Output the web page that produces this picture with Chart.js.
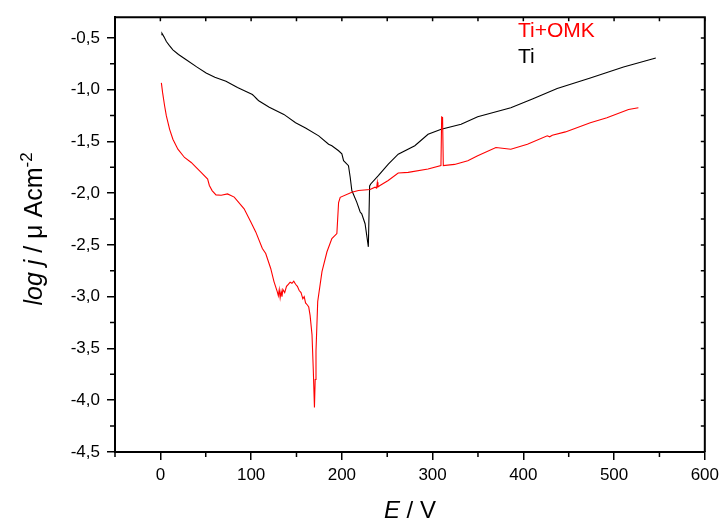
<!DOCTYPE html>
<html><head><meta charset="utf-8">
<script src="https://cdn.jsdelivr.net/npm/chart.js@4/dist/chart.umd.min.js"></script>
<style>html,body{margin:0;padding:0;background:#fff}#wrap{width:724px;height:522px}</style>
</head><body><div id="wrap"><canvas id="c" width="724" height="522"></canvas></div>
<script>
// ---- data ----
const seriesLabels = ['Ti+OMK', 'Ti'];
const seriesColors = ['#ff0000', '#000000'];

const tiE = [1.1, 1.75, 4.0, 6.6, 10.0, 13.8, 20.0, 28.5, 40.0, 50.4, 60.0, 72.3, 85.0, 95.0, 101.4, 103.3, 106.9, 108.8, 120.0, 136.1, 149.0, 160.0, 174.5, 185.4, 189.0, 196.4, 200.0, 201.9, 207.3, 209.2, 211.0, 216.4, 220.2, 221.9, 225.6, 229.2, 230.6, 231.8, 240.2, 251.2, 262.1, 280.4, 295.0, 309.5, 331.4, 349.7, 386.2, 410.0, 437.3, 473.8, 510.4, 546.0];
const tiLogJ = [-0.47, -0.455, -0.49, -0.535, -0.575, -0.615, -0.66, -0.711, -0.78, -0.839, -0.88, -0.918, -0.98, -1.02, -1.047, -1.062, -1.095, -1.11, -1.17, -1.239, -1.319, -1.37, -1.446, -1.527, -1.542, -1.59, -1.62, -1.686, -1.734, -1.846, -1.974, -2.086, -2.182, -2.199, -2.295, -2.518, -1.93, -1.911, -1.83, -1.719, -1.623, -1.542, -1.431, -1.383, -1.335, -1.261, -1.175, -1.09, -0.989, -0.887, -0.781, -0.695];

const omkE = [1.1, 2.5, 4.7, 6.6, 10.2, 13.8, 19.3, 26.6, 34.0, 39.4, 44.9, 52.1, 54.0, 57.0, 61.3, 67.0, 74.0, 81.4, 92.3, 99.7, 105.1, 112.4, 116.1, 121.6, 125.2, 128.8, 130.0, 131.0, 132.0, 133.0, 134.0, 135.0, 137.0, 139.0, 141.0, 143.0, 145.0, 147.0, 149.0, 151.0, 153.0, 155.0, 157.0, 158.5, 160.0, 162.0, 163.5, 165.0, 167.1, 168.5, 169.8, 170.6, 171.5, 173.4, 178.1, 183.6, 189.0, 194.5, 196.4, 198.2, 211.0, 218.3, 231.1, 236.6, 238.3, 239.1, 239.8, 242.0, 251.1, 262.1, 273.1, 295.0, 309.2, 310.0, 311.0, 311.8, 324.2, 338.8, 349.7, 369.8, 386.2, 404.5, 426.4, 429.0, 431.9, 446.4, 473.8, 492.1, 515.9, 526.8];
const omkLogJ = [-0.935, -1.031, -1.158, -1.254, -1.383, -1.479, -1.575, -1.655, -1.703, -1.75, -1.799, -1.863, -1.925, -1.975, -2.016, -2.02, -2.007, -2.038, -2.151, -2.278, -2.374, -2.535, -2.583, -2.727, -2.854, -2.95, -2.99, -2.93, -3.01, -2.95, -3.0, -2.93, -2.96, -2.9, -2.88, -2.86, -2.87, -2.85, -2.88, -2.9, -2.94, -2.96, -3.02, -3.0, -3.06, -3.08, -3.1, -3.18, -3.366, -3.7, -4.07, -3.8, -3.526, -3.046, -2.758, -2.566, -2.439, -2.39, -2.09, -2.04, -1.99, -1.974, -1.965, -1.942, -1.95, -1.894, -1.94, -1.926, -1.878, -1.805, -1.799, -1.767, -1.734, -1.264, -1.27, -1.734, -1.722, -1.686, -1.638, -1.559, -1.575, -1.527, -1.446, -1.455, -1.44, -1.408, -1.319, -1.271, -1.191, -1.175];

const xTickValues = [0, 100, 200, 300, 400, 500, 600];
const xMinorValues = [-50, 50, 150, 250, 350, 450, 550];
const yTickValues = [-4.5, -4.0, -3.5, -3.0, -2.5, -2.0, -1.5, -1.0, -0.5];
const yMinorValues = [-4.25, -3.75, -3.25, -2.75, -2.25, -1.75, -1.25, -0.75];
const xRange = [-50, 600];
const yRange = [-4.5, -0.3];

// ---- build datasets ----
function pts(xs, ys) { return xs.map((x, i) => ({ x: x, y: ys[i] })); }
const datasets = [
  { label: seriesLabels[0], data: pts(omkE, omkLogJ), borderColor: seriesColors[0] },
  { label: seriesLabels[1], data: pts(tiE, tiLogJ), borderColor: seriesColors[1] }
].map(d => Object.assign(d, { showLine: true, pointRadius: 0, borderWidth: 1.1, tension: 0, fill: false }));

const FONT = '"Liberation Sans", Arial, sans-serif';

function drawRich(ctx, parts, x, y) {
  let total = 0;
  parts.forEach(p => { ctx.font = p.font; p.w = ctx.measureText(p.text).width; total += p.w; });
  let cx = x - total / 2;
  ctx.textAlign = 'left';
  ctx.textBaseline = 'alphabetic';
  parts.forEach(p => { ctx.font = p.font; ctx.fillText(p.text, cx, y + (p.dy || 0)); cx += p.w; });
}

const framePlugin = {
  id: 'frame',
  afterDraw(chart) {
    const ctx = chart.ctx, a = chart.chartArea, xs = chart.scales.x, ys = chart.scales.y;
    ctx.save();
    ctx.strokeStyle = '#000';
    ctx.lineWidth = 2;
    ctx.beginPath();
    ctx.moveTo(a.left, a.top); ctx.lineTo(a.right, a.top); ctx.lineTo(a.right, a.bottom);
    ctx.stroke();
    ctx.lineWidth = 1.5;
    ctx.beginPath();
    xMinorValues.forEach(v => { const p = xs.getPixelForValue(v); ctx.moveTo(p, a.bottom); ctx.lineTo(p, a.bottom + 5); });
    yMinorValues.forEach(v => { const p = ys.getPixelForValue(v); ctx.moveTo(a.left, p); ctx.lineTo(a.left - 5, p); });
    xTickValues.concat(xMinorValues).forEach(v => { const p = xs.getPixelForValue(v); ctx.moveTo(p, a.top); ctx.lineTo(p, a.top + 4); });
    yTickValues.concat(yMinorValues).forEach(v => { const p = ys.getPixelForValue(v); ctx.moveTo(a.right, p); ctx.lineTo(a.right - 4, p); });
    ctx.stroke();

    ctx.fillStyle = '#000';
    drawRich(ctx, [
      { text: 'E', font: 'italic 24px ' + FONT },
      { text: ' / V', font: '24px ' + FONT }
    ], (a.left + a.right) / 2, 518);
    ctx.save();
    ctx.translate(42, 229);
    ctx.rotate(-Math.PI / 2);
    drawRich(ctx, [
      { text: 'log j', font: 'italic 25px ' + FONT },
      { text: ' / \u03bc Acm', font: '25px ' + FONT },
      { text: '-2', font: '17px ' + FONT, dy: -10 }
    ], 0, 0);
    ctx.restore();

    ctx.textAlign = 'left';
    ctx.textBaseline = 'alphabetic';
    ctx.font = '21px ' + FONT;
    chart.data.datasets.forEach((d, i) => {
      ctx.fillStyle = d.borderColor;
      ctx.fillText(d.label, 518, 37 + i * 26);
    });
    ctx.restore();
  }
};

new Chart(document.getElementById('c'), {
  type: 'scatter',
  data: { datasets: datasets },
  options: {
    responsive: false,
    animation: false,
    devicePixelRatio: 1,
    layout: { padding: { top: 14, right: 15, left: 0, bottom: 0 } },
    plugins: { legend: { display: false }, tooltip: { enabled: false }, title: { display: false } },
    scales: {
      x: {
        type: 'linear', min: xRange[0], max: xRange[1],
        afterBuildTicks: s => { s.ticks = xTickValues.map(v => ({ value: v })); },
        afterFit: s => { s.height = 70; },
        ticks: { color: '#000', font: { family: FONT, size: 17 }, padding: 5, maxRotation: 0, autoSkip: false, callback: v => String(v) },
        grid: { drawOnChartArea: false, drawTicks: true, tickLength: 8, color: '#000', lineWidth: 1.5 },
        border: { display: true, color: '#000', width: 2 }
      },
      y: {
        type: 'linear', min: yRange[0], max: yRange[1],
        afterBuildTicks: s => { s.ticks = yTickValues.map(v => ({ value: v })); },
        afterFit: s => { s.width = 115; },
        ticks: { color: '#000', font: { family: FONT, size: 17 }, padding: 7, autoSkip: false, callback: v => v.toFixed(1).replace('.', ',') },
        grid: { drawOnChartArea: false, drawTicks: true, tickLength: 8, color: '#000', lineWidth: 1.5 },
        border: { display: true, color: '#000', width: 2 }
      }
    }
  },
  plugins: [framePlugin]
});
</script>
</body></html>
